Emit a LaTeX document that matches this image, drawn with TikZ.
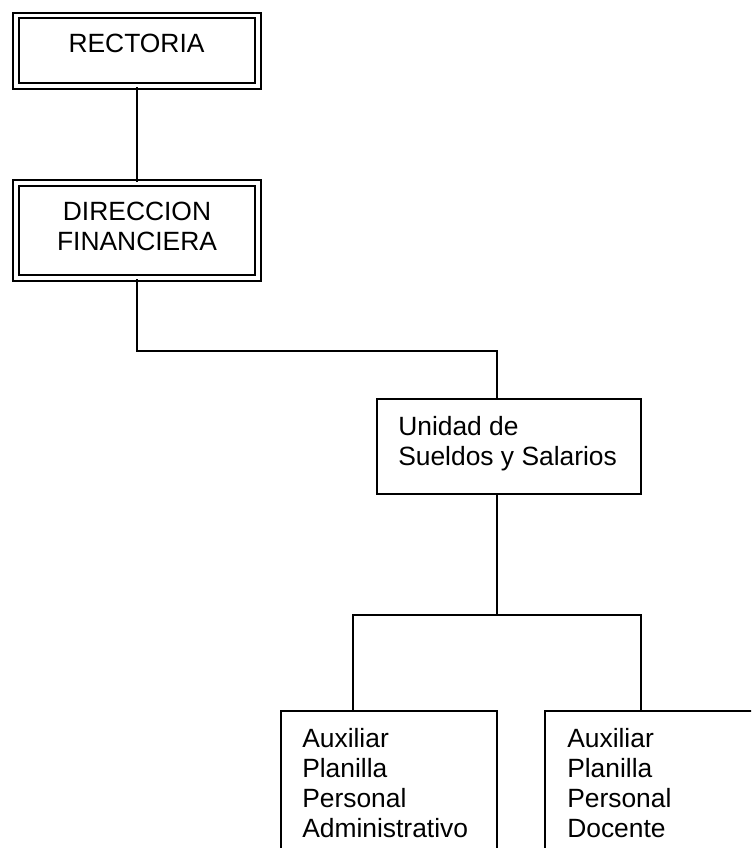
\documentclass[tikz,border=0pt]{standalone}
\usepackage{fontspec}
\setmainfont{Liberation Sans}
\begin{document}
\begin{tikzpicture}[x=0.75pt, y=-0.75pt,
  lbl/.style={font=\fontsize{19.8pt}{22.5pt}\selectfont, inner sep=0pt},
  unitbox/.style={draw, line width=1.5pt, rectangle, inner sep=0pt},
  headbox/.style={draw, line width=1.7pt, double, double distance=2.3pt, rectangle, inner sep=0pt},
  link/.style={line width=1.5pt}]
  \useasboundingbox (0,0) rectangle (751,848);
  \clip (0,0) rectangle (751,848);
  \fill[white] (0,0) rectangle (751,848);

  % boxes
  \node[headbox, minimum width=181.5pt, minimum height=52.9pt] (rect) at (137,50.75) {};
  \node[headbox, minimum width=181.5pt, minimum height=71.25pt] (dir) at (137,230.5) {};
  \node[unitbox, minimum width=198pt, minimum height=71.25pt] (uni) at (509,446.5) {};
  \node[unitbox, minimum width=162pt, minimum height=141.75pt] (aux1) at (389,805.5) {};
  \node[unitbox, minimum width=162pt, minimum height=141.75pt] (aux2) at (653,805.5) {};

  % labels
  \node[lbl, anchor=base] (rectT) at (136.5,53) {RECTORIA};
  \node[lbl, anchor=north, align=center] (dirT) at (137,202) {DIRECCION\\FINANCIERA};
  \node[lbl, anchor=north west, align=left] (uniT) at (398,416) {Unidad de\\Sueldos y Salarios};
  \node[lbl, anchor=north west, align=left] (aux1T) at (302,728) {Auxiliar\\Planilla\\Personal\\Administrativo};
  \node[lbl, anchor=north west, align=left] (aux2T) at (567,728) {Auxiliar\\Planilla\\Personal\\Docente};

  % junction points of the connectors
  \coordinate (j1) at (497,351);
  \coordinate (bus) at (497,615);
  \coordinate (b1) at (353,615);
  \coordinate (b2) at (641,615);

  % connectors
  \draw[link] (rect.south) -- (dir.north);
  \draw[link] (dir.south) |- (j1) -- (uni.north -| j1);
  \draw[link] (uni.south -| bus) -- (bus);
  \draw[link] (aux1.north -| b1) |- (b2) -- (aux2.north -| b2);
\end{tikzpicture}
\end{document}
